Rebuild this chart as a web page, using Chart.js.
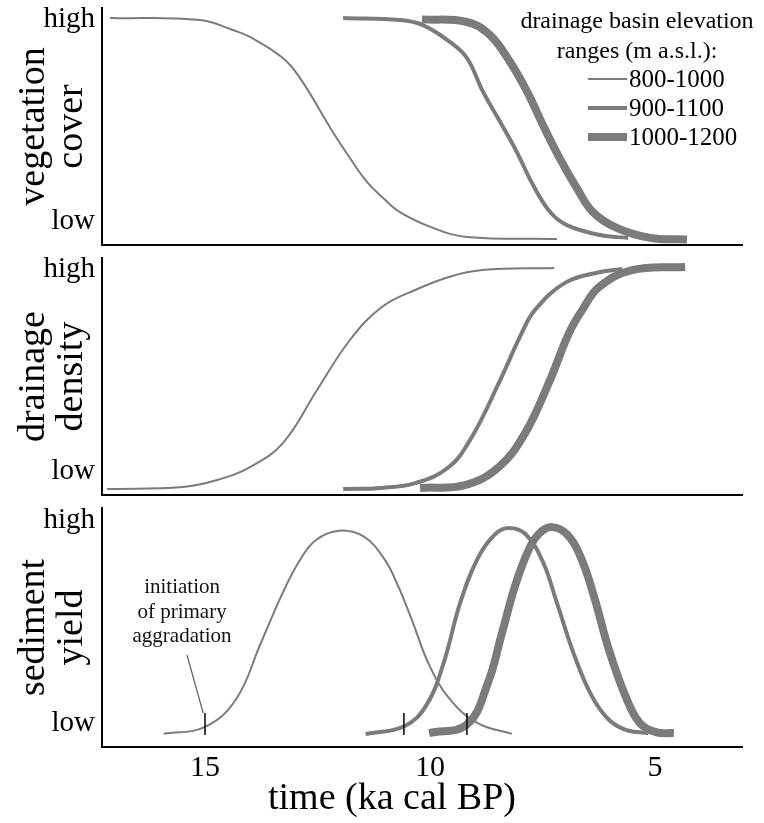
<!DOCTYPE html>
<html>
<head>
<meta charset="utf-8">
<script src="https://cdn.jsdelivr.net/npm/chart.js@4/dist/chart.umd.min.js"></script>
<style>
html,body{margin:0;padding:0;background:#fff;}
#wrap{position:relative;width:764px;height:823px;overflow:hidden;}
#wrap canvas{position:absolute;left:0;top:0;}
</style>
</head>
<body>
<div id="wrap">
<canvas id="c1" width="764" height="823"></canvas>
<canvas id="c2" width="764" height="823"></canvas>
<canvas id="c3" width="764" height="823"></canvas>
</div>
<script>
// ---------- data ----------
const seriesLabels = ['800-1000', '900-1100', '1000-1200'];
const legendTitle = ['drainage basin elevation', 'ranges (m a.s.l.):'];
const panelTitles = [['vegetation', 'cover'], ['drainage', 'density'], ['sediment', 'yield']];
const yTickValues = [10, 95];
const yTickLabels = ['low', 'high'];
const xTickValues = [15, 10, 5];
const xTitle = 'time (ka cal BP)';
const annotationLines = ['initiation', 'of primary', 'aggradation'];

// [time ka cal BP, relative level 0-100]
const vegetation800 = [[17.11,95.8],[15.11,94.9],[14.38,90.7],[14.0,87.8],[13.27,78.9],[12.89,70.5],[12.16,47.7],[11.78,36.7],[11.4,26.6],[11.04,19.8],[10.67,13.9],[9.93,7.2],[9.18,3.4],[7.18,2.5]];
const vegetation900 = [[11.93,95.8],[10.67,94.9],[10.16,92.8],[9.56,85.7],[9.18,78.9],[8.82,64.6],[8.44,51.9],[8.07,39.2],[7.71,25.3],[7.33,13.9],[6.96,8.4],[6.22,4.2],[5.6,3]];
const vegetation1000 = [[10.18,95.2],[9.18,94.1],[8.67,88.6],[8.22,77.2],[7.84,64.6],[7.49,50.6],[7.12,36.7],[6.74,24.1],[6.38,13.9],[5.85,7.2],[5.11,3],[4.29,2.3]];

const drainage800 = [[17.18,2.5],[15.49,3.4],[14.73,6.3],[14,11.8],[13.27,21.9],[12.51,44.3],[11.78,65.4],[11.07,79.3],[10.33,86.5],[9.58,92],[8.84,94.9],[7.24,95.8]];
const drainage900 = [[11.93,2.5],[11.07,3],[10.33,5],[9.58,11.8],[9.07,24.5],[8.47,47.3],[7.96,68.4],[7.67,78],[7,89.5],[6.24,94],[5.73,95.4]];
const drainage1000 = [[10.22,3],[9.22,4.2],[8.47,11.8],[7.89,26],[7.36,47.3],[6.91,68.4],[6.62,78],[6.24,87.8],[5.51,94.9],[4.33,96.2]];

const sediment800 = [[15.92,5.5],[15.0,8.4],[14.31,20],[13.77,43],[13.31,63],[12.93,77],[12.54,86.5],[12.02,90.5],[11.47,88],[11.01,78.5],[10.71,67.4],[10.4,53],[10.02,34.4],[9.56,20],[8.94,10],[8.18,5.5]];
const sediment900 = [[11.43,5.4],[10.57,8.7],[10.09,17.2],[9.71,34.4],[9.33,60.3],[8.94,78.9],[8.56,88.9],[8.25,91.6],[7.87,88.9],[7.49,77.4],[7.18,60.3],[6.8,38.7],[6.41,21.5],[6.03,11.5],[5.65,7.2],[5.15,5.8]];
const sediment1000 = [[10.02,5.8],[9.18,9.4],[8.71,27],[8.41,47],[8.1,68],[7.79,83.2],[7.56,89.6],[7.29,92],[6.95,88.9],[6.64,78.9],[6.34,62],[6.03,41],[5.65,21],[5.34,10.1],[4.96,6.1],[4.58,5.8]];

// initiation of primary aggradation markers and leader line
const initiationMarks = [[15.0,9.6],[10.58,9.6],[9.18,9.6]];
const leaderLine = [[15.40,38.5],[15.04,14.2]];
const annotationAnchor = [15.51, 64.4];

// ---------- styles ----------
const FONT = '"Liberation Serif", "Times New Roman", Times, serif';
const GREY = '#7b7b7b';
const WIDTHS = [2, 4, 8];
const X_MIN = 3.067, X_MAX = 17.289;

const toXY = arr => arr.map(p => ({x: p[0], y: p[1]}));

function seriesDatasets(arrays) {
  return arrays.map((arr, i) => ({
    label: seriesLabels[i],
    isSeries: true,
    data: toXY(arr),
    borderColor: GREY,
    backgroundColor: GREY,
    borderWidth: WIDTHS[i],
    pointRadius: 0,
    tension: 0.4,
    borderCapStyle: 'butt',
    borderJoinStyle: 'round',
    fill: false,
    order: 2
  }));
}

const legendPlugin = {
  id: 'customLegend',
  afterDraw(chart) {
    const ctx = chart.ctx;
    ctx.save();
    ctx.fillStyle = '#000';
    ctx.textAlign = 'center';
    ctx.textBaseline = 'alphabetic';
    ctx.font = '24px ' + FONT;
    const cx = chart.chartArea.right - 105;
    legendTitle.forEach((t, i) => ctx.fillText(t, cx, 28 + i * 30));
    ctx.font = '25px ' + FONT;
    ctx.textAlign = 'left';
    const items = chart.data.datasets.filter(d => d.isSeries);
    items.forEach((d, i) => {
      const y = 79 + i * 29;
      ctx.strokeStyle = d.borderColor;
      ctx.lineWidth = d.borderWidth;
      ctx.lineCap = 'butt';
      ctx.beginPath();
      ctx.moveTo(cx - 49, y);
      ctx.lineTo(cx - 10, y);
      ctx.stroke();
      ctx.fillText(d.label, cx - 8, y + 8);
    });
    ctx.restore();
  }
};

const xTitlePlugin = {
  id: 'xTitle',
  afterDraw(chart) {
    const ctx = chart.ctx;
    ctx.save();
    ctx.fillStyle = '#000';
    ctx.font = '38px ' + FONT;
    ctx.textAlign = 'center';
    ctx.textBaseline = 'alphabetic';
    ctx.fillText(xTitle, 392, 809);
    ctx.restore();
  }
};

const annotationPlugin = {
  id: 'annotationText',
  afterDraw(chart) {
    const ctx = chart.ctx;
    const x = chart.scales.x.getPixelForValue(annotationAnchor[0]);
    const y = chart.scales.y.getPixelForValue(annotationAnchor[1]);
    ctx.save();
    ctx.fillStyle = '#111';
    ctx.font = '21px ' + FONT;
    ctx.textAlign = 'center';
    ctx.textBaseline = 'alphabetic';
    annotationLines.forEach((t, i) => ctx.fillText(t, x, y + i * 24.5));
    ctx.restore();
  }
};

function makePanel(id, idx, datasets, pad, showX, plugins) {
  return new Chart(document.getElementById(id), {
    type: 'line',
    data: {datasets},
    plugins,
    options: {
      responsive: false,
      animation: false,
      devicePixelRatio: 1,
      events: [],
      layout: {padding: pad},
      plugins: {legend: {display: false}, tooltip: {enabled: false}, title: {display: false}},
      scales: {
        x: {
          type: 'linear', reverse: true, min: X_MIN, max: X_MAX,
          afterBuildTicks: s => { s.ticks = showX ? xTickValues.map(v => ({value: v})) : []; },
          ticks: {display: showX, color: '#000', font: {family: FONT, size: 30, lineHeight: 1.2}, padding: 3, maxRotation: 0, autoSkip: false},
          grid: {display: false, drawTicks: false},
          border: {display: true, color: '#000', width: 2},
          afterFit: s => { s.height = showX ? 76 : 0; s.paddingLeft = 0; s.paddingRight = 0; }
        },
        y: {
          type: 'linear', min: 0, max: 100,
          afterBuildTicks: s => { s.ticks = yTickValues.map(v => ({value: v})); },
          ticks: {
            color: '#000', font: {family: FONT, size: 29}, padding: 7, autoSkip: false,
            callback: v => yTickLabels[yTickValues.indexOf(v)]
          },
          grid: {display: false, drawTicks: false},
          border: {display: true, color: '#000', width: 2},
          title: {display: true, text: panelTitles[idx], color: '#000', font: {family: FONT, size: 38, lineHeight: 1.0}, padding: {top: 15, bottom: 0}},
          afterFit: s => { s.width = 102; s.paddingTop = 0; s.paddingBottom = 0; }
        }
      }
    }
  });
}

makePanel('c1', 0, seriesDatasets([vegetation800, vegetation900, vegetation1000]),
  {top: 8, bottom: 578, left: 0, right: 22}, false, [legendPlugin]);
makePanel('c2', 1, seriesDatasets([drainage800, drainage900, drainage1000]),
  {top: 258, bottom: 328, left: 0, right: 22}, false, []);

const sedimentSets = seriesDatasets([sediment800, sediment900, sediment1000]);
sedimentSets.push({
  label: 'leader', data: toXY(leaderLine), borderColor: '#666', borderWidth: 1.3,
  pointRadius: 0, tension: 0, order: 0
});
sedimentSets.push({
  label: 'initiation', data: toXY(initiationMarks), showLine: false,
  pointStyle: 'line', rotation: 90, pointRadius: 11, borderColor: '#111', backgroundColor: '#111',
  pointBorderWidth: 1.6, borderWidth: 1.6, order: 0
});
makePanel('c3', 2, sedimentSets, {top: 508, bottom: 0, left: 0, right: 22}, true, [annotationPlugin, xTitlePlugin]);
</script>
</body>
</html>
